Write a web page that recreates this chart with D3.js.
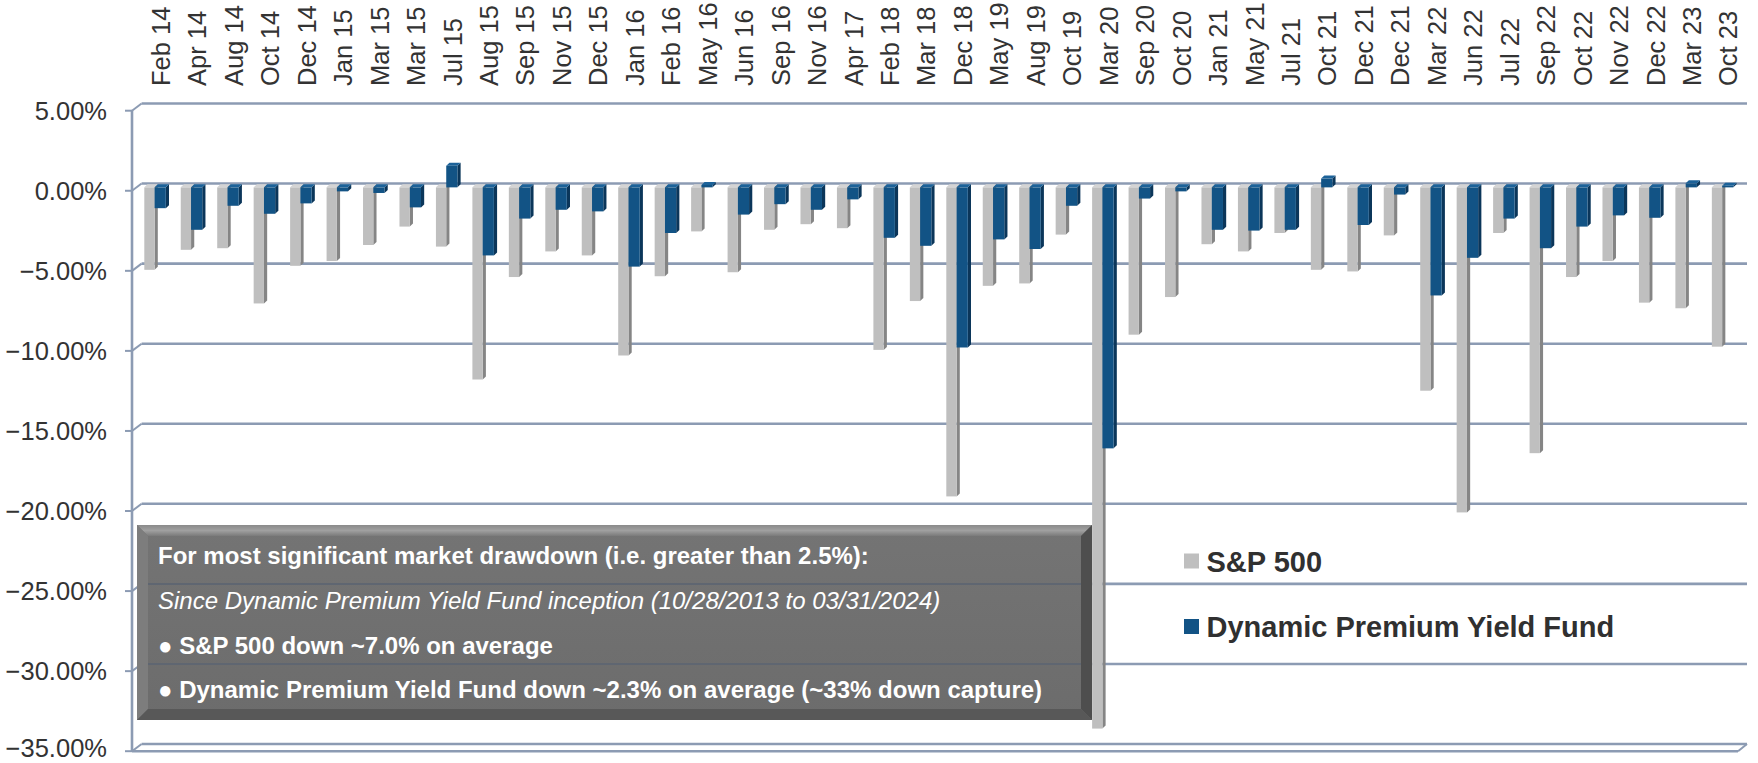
<!DOCTYPE html>
<html>
<head>
<meta charset="utf-8">
<script src="https://cdn.jsdelivr.net/npm/d3@7"></script>
<style>
  body { margin: 0; background: #fff; }
  svg { display: block; font-family: Arial, "Liberation Sans", sans-serif; }
</style>
</head>
<body>
<svg width="1758" height="763"></svg>
<script>
// drawdown periods
var cats = ["Feb 14","Apr 14","Aug 14","Oct 14","Dec 14","Jan 15","Mar 15","Mar 15","Jul 15","Aug 15",
  "Sep 15","Nov 15","Dec 15","Jan 16","Feb 16","May 16","Jun 16","Sep 16","Nov 16","Apr 17",
  "Feb 18","Mar 18","Dec 18","May 19","Aug 19","Oct 19","Mar 20","Sep 20","Oct 20","Jan 21",
  "May 21","Jul 21","Oct 21","Dec 21","Dec 21","Mar 22","Jun 22","Jul 22","Sep 22","Oct 22",
  "Nov 22","Dec 22","Mar 23","Oct 23"];

var sp500 = [-5.15,-3.9,-3.8,-7.25,-4.9,-4.6,-3.6,-2.45,-3.7,-12.0,
  -5.6,-4.0,-4.25,-10.5,-5.55,-2.75,-5.3,-2.65,-2.3,-2.55,
  -10.15,-7.1,-19.3,-6.15,-6.0,-2.95,-33.8,-9.2,-6.85,-3.55,
  -4.0,-2.85,-5.15,-5.25,-3.0,-12.7,-20.3,-2.85,-16.6,-5.6,
  -4.6,-7.2,-7.55,-9.95];

var fund = [-1.3,-2.65,-1.15,-1.65,-1.0,-0.25,-0.35,-1.25,1.35,-4.25,
  -1.95,-1.4,-1.5,-4.95,-2.85,0.15,-1.7,-1.05,-1.4,-0.75,
  -3.15,-3.65,-10.0,-3.25,-3.85,-1.15,-16.3,-0.7,-0.25,-2.65,
  -2.7,-2.65,0.55,-2.35,-0.45,-6.75,-4.4,-1.95,-3.8,-2.45,
  -1.75,-1.9,0.25,0.1];

var yTicks = [5,0,-5,-10,-15,-20,-25,-30,-35];

var seriesNames = ["S&P 500", "Dynamic Premium Yield Fund"];

var noteLines = [
  {t: "For most significant market drawdown (i.e. greater than 2.5%):", bold: true, italic: false},
  {t: "Since Dynamic Premium Yield Fund inception (10/28/2013 to 03/31/2024)", bold: false, italic: true},
  {t: "\u25CF S&P 500 down ~7.0% on average", bold: true, italic: false},
  {t: "\u25CF Dynamic Premium Yield Fund down ~2.3% on average (~33% down capture)", bold: true, italic: false}
];

var svg = d3.select("svg");
var gridCol = "#8c9bb3";

// front plane (axis) and back wall offsets
var yFront = d3.scaleLinear().domain([-35, 5]).range([751.2, 110.7]);
var backDx = 9.6, backDy = -7.2;
var x = d3.scaleBand().domain(d3.range(cats.length)).range([142, 1746]).paddingInner(0).paddingOuter(0);
var bw = x.bandwidth();

// gridlines on back wall
var grid = svg.append("g");
yTicks.forEach(function(v) {
  grid.append("line")
    .attr("x1", 132 + backDx).attr("x2", 1747)
    .attr("y1", yFront(v) + backDy).attr("y2", yFront(v) + backDy)
    .attr("stroke", gridCol).attr("stroke-width", 2.6);
  grid.append("line")
    .attr("x1", 132).attr("y1", yFront(v))
    .attr("x2", 132 + backDx).attr("y2", yFront(v) + backDy)
    .attr("stroke", gridCol).attr("stroke-width", 2);
  grid.append("line")
    .attr("x1", 125).attr("x2", 132)
    .attr("y1", yFront(v)).attr("y2", yFront(v))
    .attr("stroke", gridCol).attr("stroke-width", 2);
});
// floor front edge
grid.append("line")
  .attr("x1", 132).attr("x2", 1738)
  .attr("y1", yFront(-35)).attr("y2", yFront(-35))
  .attr("stroke", gridCol).attr("stroke-width", 2.6);
grid.append("line")
  .attr("x1", 1738).attr("y1", yFront(-35))
  .attr("x2", 1747).attr("y2", yFront(-35) + backDy)
  .attr("stroke", gridCol).attr("stroke-width", 2);
// vertical axis
grid.append("line")
  .attr("x1", 132).attr("x2", 132)
  .attr("y1", yFront(5)).attr("y2", yFront(-35))
  .attr("stroke", gridCol).attr("stroke-width", 2.6);

// y labels (bottom one lifted a little so it stays inside the frame)
svg.append("g").selectAll("text")
  .data(yTicks)
  .enter()
  .append("text")
    .attr("x", 107)
    .attr("y", d => yFront(d) - (d === -35 ? 3 : 0))
    .attr("dy", "0.35em")
    .attr("text-anchor", "end")
    .attr("font-size", 25.5)
    .attr("fill", "#333")
    .text(d => d3.format(".2f")(d) + "%");

// x labels, rotated
svg.append("g").selectAll("text")
  .data(cats)
  .enter()
  .append("text")
    .attr("transform", (d, i) => "translate(" + (x(i) + bw / 2 + 0.5) + ",86) rotate(-90)")
    .attr("dy", "0.36em")
    .attr("font-size", 25.5)
    .attr("fill", "#333")
    .text(d => d);

// bars with a bit of depth
var yBar = v => yFront(v) - 3.4;
var dx = 3.2, dy = -3;
function bar3d(g, x0, w, v, cFront, cSide, cTop) {
  var yA = yBar(Math.max(v, 0)), yB = yBar(Math.min(v, 0));
  g.append("polygon")
    .attr("points", [[x0 + w, yA], [x0 + w + dx, yA + dy], [x0 + w + dx, yB + dy], [x0 + w, yB]].join(" "))
    .attr("fill", cSide);
  g.append("polygon")
    .attr("points", [[x0, yA], [x0 + dx, yA + dy], [x0 + w + dx, yA + dy], [x0 + w, yA]].join(" "))
    .attr("fill", cTop);
  g.append("rect")
    .attr("x", x0).attr("y", yA)
    .attr("width", w).attr("height", Math.max(yB - yA, 0.8))
    .attr("fill", cFront);
}
var bars = svg.append("g");
cats.forEach(function(c, i) {
  var b = x(i);
  bar3d(bars, b + 2.3, 10.3, sp500[i], "#bfbfbf", "#858585", "#d4d4d4");
  bar3d(bars, b + 12.6, 11.2, fund[i], "#125385", "#0b365a", "#1c6299");
});

// note box
var defs = svg.append("defs");
var grad = defs.append("linearGradient").attr("id", "boxg").attr("x1", 0).attr("y1", 0).attr("x2", 0).attr("y2", 1);
grad.append("stop").attr("offset", 0).attr("stop-color", "#747474");
grad.append("stop").attr("offset", 1).attr("stop-color", "#6c6c6c");
var gTop = defs.append("linearGradient").attr("id", "bevTop").attr("x1", 0).attr("y1", 0).attr("x2", 0).attr("y2", 1);
gTop.append("stop").attr("offset", 0).attr("stop-color", "#8a8a8a");
gTop.append("stop").attr("offset", 0.5).attr("stop-color", "#a0a0a0");
gTop.append("stop").attr("offset", 1).attr("stop-color", "#7a7a7a");

var bx = 137, by = 525, bwid = 955, bht = 195, bev = 11;
var box = svg.append("g");
box.append("rect").attr("x", bx).attr("y", by).attr("width", bwid).attr("height", bht)
  .attr("fill", "url(#boxg)");
// gridlines faintly seen through the box
yTicks.filter(v => yFront(v) + backDy > by + bev && yFront(v) + backDy < by + bht - bev).forEach(function(v) {
  box.append("line")
    .attr("x1", bx + bev).attr("x2", bx + bwid - bev)
    .attr("y1", yFront(v) + backDy).attr("y2", yFront(v) + backDy)
    .attr("stroke", "#5f6671").attr("stroke-width", 2);
});
box.append("polygon")
  .attr("points", [[bx, by], [bx + bwid, by], [bx + bwid - bev, by + bev], [bx + bev, by + bev]].join(" "))
  .attr("fill", "url(#bevTop)");
box.append("polygon")
  .attr("points", [[bx, by], [bx + bev, by + bev], [bx + bev, by + bht - bev], [bx, by + bht]].join(" "))
  .attr("fill", "#7d7d7d");
box.append("polygon")
  .attr("points", [[bx + bwid, by], [bx + bwid, by + bht], [bx + bwid - bev, by + bht - bev], [bx + bwid - bev, by + bev]].join(" "))
  .attr("fill", "#4e4e4e");
box.append("polygon")
  .attr("points", [[bx, by + bht], [bx + bwid, by + bht], [bx + bwid - bev, by + bht - bev], [bx + bev, by + bht - bev]].join(" "))
  .attr("fill", "#585858");

box.selectAll("text.note")
  .data(noteLines)
  .enter()
  .append("text")
    .attr("class", "note")
    .attr("x", 158)
    .attr("y", (d, i) => 564.3 + i * 44.7)
    .attr("font-size", 24)
    .attr("font-weight", d => d.bold ? "bold" : "normal")
    .attr("font-style", d => d.italic ? "italic" : "normal")
    .attr("fill", "#fff")
    .text(d => d.t);

// legend
var leg = svg.append("g");
var legCols = ["#bfbfbf", "#125385"];
seriesNames.forEach(function(n, i) {
  leg.append("rect")
    .attr("x", 1184).attr("y", 553.5 + i * 65.5)
    .attr("width", 15).attr("height", 15)
    .attr("fill", legCols[i]);
  leg.append("text")
    .attr("x", 1206.5).attr("y", 571.7 + i * 65)
    .attr("font-size", 29)
    .attr("font-weight", "bold")
    .attr("fill", "#303030")
    .text(n);
});
</script>
</body>
</html>
